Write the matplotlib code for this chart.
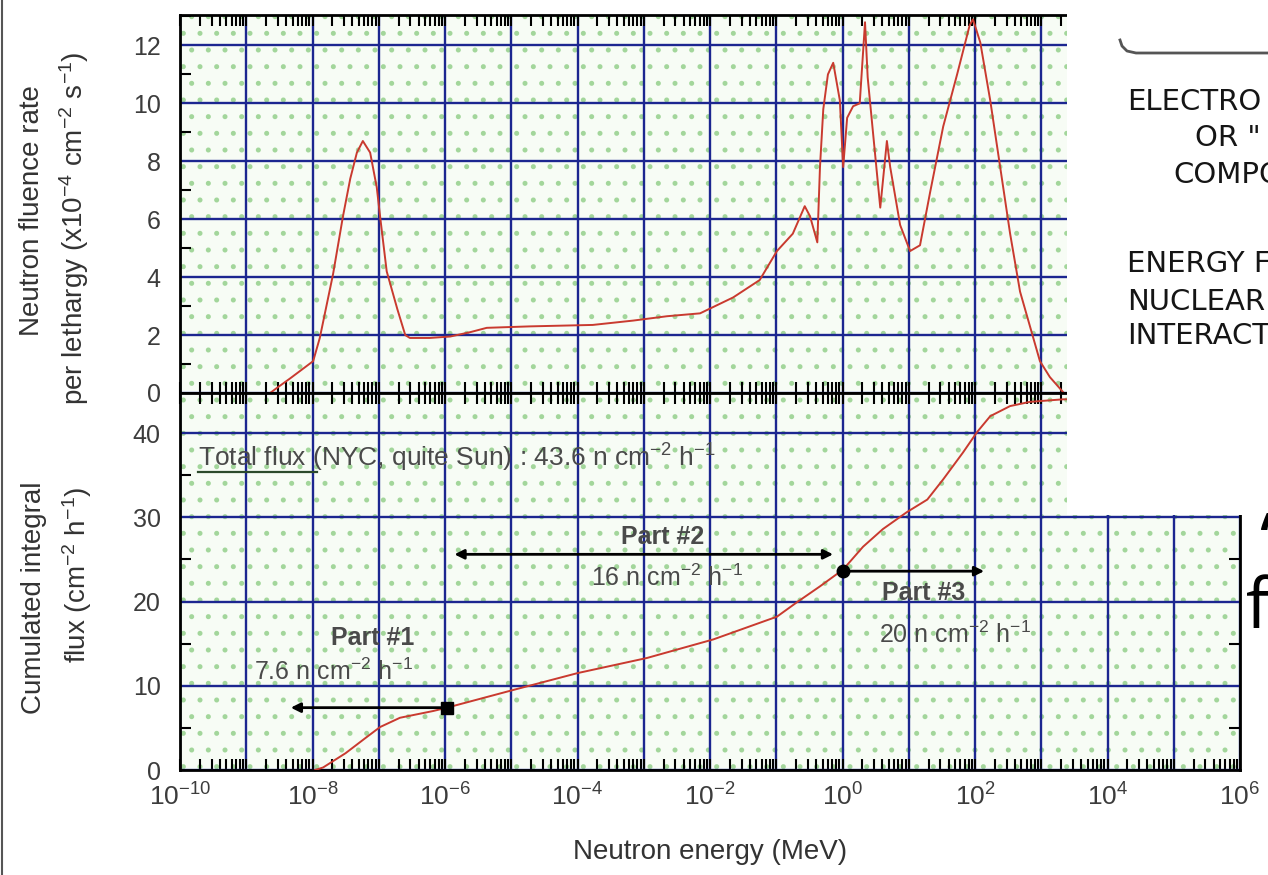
import numpy as np
import matplotlib.pyplot as plt
from matplotlib.patches import Rectangle
from matplotlib.lines import Line2D
from matplotlib.ticker import FixedLocator, LogLocator, MultipleLocator, NullFormatter, FuncFormatter

plt.rcParams['font.family'] = ['Liberation Sans', 'DejaVu Sans']
plt.rcParams['mathtext.default'] = 'regular'
plt.rcParams['hatch.linewidth'] = 1.2

# neutron spectrum at sea level: log10(E / MeV) and fluence rate per lethargy (x1e-4 cm-2 s-1)
spec_logE = [-8.64, -8.54, -8.34, -7.99, -7.89, -7.69, -7.54, -7.43, -7.33, -7.24,
             -7.13, -7.03, -6.98, -6.88, -6.72, -6.60, -6.53, -6.23, -5.92, -5.62,
             -5.37, -4.72, -3.77, -3.16, -2.65, -2.15, -1.65, -1.25, -0.99, -0.75,
             -0.57, -0.49, -0.38, -0.34, -0.29, -0.22, -0.14, -0.04, 0.01, 0.07,
             0.16, 0.26, 0.34, 0.38, 0.46, 0.57, 0.67, 0.72, 0.87, 1.02,
             1.17, 1.32, 1.52, 1.73, 1.92, 1.97, 2.08, 2.23, 2.38, 2.53,
             2.68, 2.83, 2.98, 3.13, 3.33]
spec_rate = [0.0, 0.17, 0.5, 1.1, 1.9, 4.1, 6.1, 7.4, 8.3, 8.7,
             8.3, 7.1, 6.1, 4.2, 2.9, 2.0, 1.9, 1.9, 1.95, 2.1,
             2.25, 2.3, 2.35, 2.5, 2.65, 2.75, 3.3, 3.9, 4.9, 5.5,
             6.45, 6.1, 5.2, 7.8, 9.8, 11.0, 11.4, 10.1, 7.8, 9.5,
             9.9, 10.0, 12.8, 10.9, 9.0, 6.4, 8.7, 7.8, 5.8, 4.9,
             5.1, 6.9, 9.2, 11.0, 12.7, 12.9, 12.1, 10.1, 7.8, 5.5,
             3.5, 2.3, 1.1, 0.55, 0.03]

# cumulated integral flux (cm-2 h-1)
cum_logE = [-7.96, -7.84, -7.5, -7.2, -6.98, -6.68, -6.18, -5.97, -4.97, -4.0,
            -2.95, -1.95, -0.99, -0.69, -0.34, 0.01, 0.31, 0.61, 0.97, 1.28,
            1.52, 1.82, 2.03, 2.23, 2.53, 2.83, 3.33, 4.0]
cum_flux = [0.0, 0.3, 2.0, 3.8, 5.1, 6.2, 7.0, 7.4, 9.5, 11.5,
            13.3, 15.5, 18.2, 19.9, 21.8, 23.8, 26.5, 28.6, 30.6, 32.1,
            34.5, 37.7, 40.1, 42.0, 43.2, 43.7, 44.0, 44.0]

# the three energy parts: range (log10 MeV) and arrow level
part_lo = [-8.37, -5.9, 0.0]
part_hi = [-5.97, -0.1, 2.18]
part_level = [7.4, 25.6, 23.6]
part_flux = ['7.6', '16', '20']
total_flux = '43.6'

W, H = 1268, 875
fig = plt.figure(figsize=(W / 100, H / 100), dpi=100)


def fx(px):
    return px / W


def fy(py):
    return 1 - py / H


ax1 = fig.add_axes([fx(180), fy(393), fx(1240) - fx(180), fy(15) - fy(393)])
ax2 = fig.add_axes([fx(180), fy(770), fx(1240) - fx(180), fy(393) - fy(770)])

grid_c = '#1c2690'
curve_c = '#c93a2f'
label_c = '#3c3c3c'
decades = [10.0 ** k for k in range(-10, 7)]


def style(ax, ymax, ystep):
    ax.set_xscale('log')
    ax.set_xlim(1e-10, 1e6)
    ax.set_ylim(0, ymax)
    ax.set_facecolor('#f7fcf5')
    # dotted green screen behind the grid
    ax.add_patch(Rectangle((0, 0), 1, 1, transform=ax.transAxes, facecolor='none',
                           edgecolor='#a3d69b', hatch='.', lw=0, zorder=0))
    ax.xaxis.set_major_locator(FixedLocator(decades))
    ax.xaxis.set_minor_locator(LogLocator(base=10, subs=np.arange(2, 10), numticks=100))
    ax.xaxis.set_minor_formatter(NullFormatter())
    ax.yaxis.set_major_locator(MultipleLocator(ystep))
    ax.yaxis.set_minor_locator(MultipleLocator(ystep / 2))
    ax.grid(True, which='major', color=grid_c, lw=1.7)
    ax.tick_params(which='both', direction='in', top=True, right=True,
                   length=8, width=1.5, color='k')
    ax.tick_params(axis='y', which='major', length=0, labelsize=18,
                   labelcolor=label_c, pad=14)
    for s in ax.spines.values():
        s.set_linewidth(2)
        s.set_color('k')


style(ax1, 13.05, 2)
style(ax2, 44.75, 10)
ax1.tick_params(labelbottom=False)


def dec_label(v, pos):
    k = int(round(np.log10(v)))
    return '$10^{%d}$' % k if k % 2 == 0 else ''


ax2.xaxis.set_major_formatter(FuncFormatter(dec_label))
ax2.tick_params(axis='x', which='major', labelsize=19, labelcolor=label_c, pad=10)

ax1.plot(10 ** np.array(spec_logE), spec_rate, color=curve_c, lw=1.4, zorder=3)
ax2.plot(10 ** np.array(cum_logE), cum_flux, color=curve_c, lw=1.4, zorder=3)

# part arrows
ax2.annotate('', xy=(10 ** part_lo[0], part_level[0]), xytext=(10 ** part_hi[0], part_level[0]),
             arrowprops=dict(arrowstyle='-|>', color='k', lw=2, mutation_scale=14), zorder=4)
ax2.plot(10 ** part_hi[0], part_level[0], 's', color='k', ms=8, zorder=5)
ax2.annotate('', xy=(10 ** part_lo[1], part_level[1]), xytext=(10 ** part_hi[1], part_level[1]),
             arrowprops=dict(arrowstyle='<|-|>', color='k', lw=2, mutation_scale=14), zorder=4)
ax2.annotate('', xy=(10 ** part_hi[2], part_level[2]), xytext=(10 ** part_lo[2], part_level[2]),
             arrowprops=dict(arrowstyle='-|>', color='k', lw=2, mutation_scale=14), zorder=4)
ax2.plot(10 ** part_lo[2], part_level[2], 'o', color='k', ms=9, zorder=5)

txt = dict(color='#4a4a4a', ha='center', va='center', zorder=6)
ax2.text(10 ** -7.09, 15.7, 'Part #1', fontsize=18, fontweight='bold', **txt)
ax2.text(10 ** -7.68, 11.6, part_flux[0] + ' n cm$^{-2}$ h$^{-1}$', fontsize=18, **txt)
ax2.text(10 ** -2.72, 27.7, 'Part #2', fontsize=18, fontweight='bold', **txt)
ax2.text(10 ** -2.65, 22.8, part_flux[1] + ' n cm$^{-2}$ h$^{-1}$', fontsize=18, **txt)
ax2.text(10 ** 1.22, 21.0, 'Part #3', fontsize=18, fontweight='bold', **txt)
ax2.text(10 ** 1.70, 16.0, part_flux[2] + ' n cm$^{-2}$ h$^{-1}$', fontsize=18, **txt)

ax2.text(10 ** -9.73, 37.0, 'Total flux (NYC, quite Sun) : ' + total_flux + ' n cm$^{-2}$ h$^{-1}$',
         fontsize=19, color='#4a4a4a', ha='left', va='center', zorder=6)
ax2.plot([10 ** -9.73, 10 ** -7.93], [35.4, 35.4], color='#2c4a2c', lw=1.6, zorder=6)

# axis titles
lab = dict(rotation=90, ha='center', va='center', fontsize=20, color='#333333')
fig.text(fx(32), fy(211), 'Neutron fluence rate', **lab)
fig.text(fx(74), fy(228), 'per lethargy (x10$^{-4}$ cm$^{-2}$ s$^{-1}$)', **lab)
fig.text(fx(34), fy(598), 'Cumulated integral', **lab)
fig.text(fx(77), fy(575), 'flux (cm$^{-2}$ h$^{-1}$)', **lab)
fig.text(fx(710), fy(852), 'Neutron energy (MeV)', ha='center', va='center',
         fontsize=20, color='#333333')

# page frame on the left
fig.add_artist(Line2D([fx(2), fx(2)], [0, 1], color='#555555', lw=1.5))

# neighbouring figure panel covering the upper right
fig.add_artist(Rectangle((fx(1067), fy(515)), 1 - fx(1067), fy(0) - fy(515),
                         transform=fig.transFigure, facecolor='white', edgecolor='none', zorder=10))
bracket_x = [1120, 1122, 1127, 1136, 1268]
bracket_y = [40, 46, 51, 53, 53]
fig.add_artist(Line2D([fx(v) for v in bracket_x], [fy(v) for v in bracket_y],
                      color='#555555', lw=2, zorder=11))
side = dict(fontsize=21, family='DejaVu Sans', color='#151515', ha='left', va='center', zorder=11)
fig.text(fx(1127), fy(102), 'ELECTRO', **side)
fig.text(fx(1195), fy(138), 'OR "', **side)
fig.text(fx(1173), fy(175), 'COMPO', **side)
fig.text(fx(1127), fy(264), 'ENERGY F', **side)
fig.text(fx(1127), fy(302), 'NUCLEAR', **side)
fig.text(fx(1127), fy(336), 'INTERACT', **side)
fig.text(fx(1259), fy(563), '\u2018', fontsize=50, family='Open Sans', color='k',
         ha='left', va='baseline', zorder=11)
fig.text(fx(1246), fy(628), 'f', fontsize=50, family='Open Sans', color='k',
         ha='left', va='baseline', zorder=11)

fig.savefig('out.png', dpi=100)
